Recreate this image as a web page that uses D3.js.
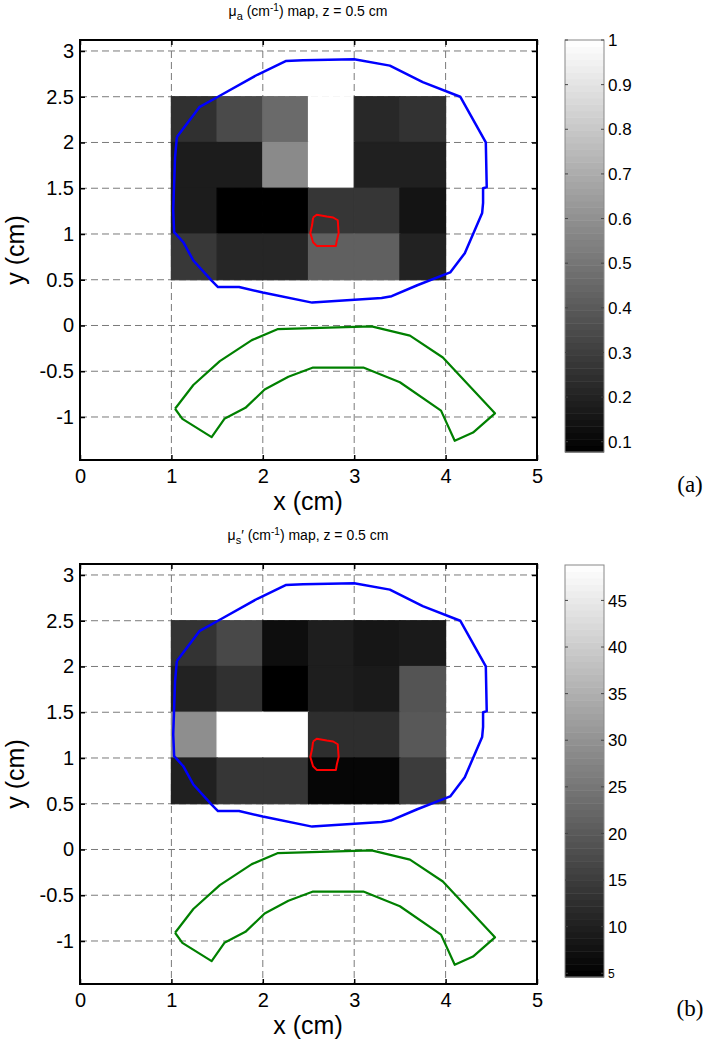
<!DOCTYPE html>
<html>
<head>
<meta charset="utf-8">
<script src="https://cdn.jsdelivr.net/npm/d3@7"></script>
<style>
  html, body { margin: 0; padding: 0; background: #fff; }
  svg { display: block; }
  text { font-family: Arial, "Liberation Sans", sans-serif; fill: #000; }
</style>
</head>
<body>
<svg id="chart" width="713" height="1050"></svg>
<script>
// ---------- data ----------
const xTicks = [0, 1, 2, 3, 4, 5];
const yTicks = [-1, -0.5, 0, 0.5, 1, 1.5, 2, 2.5, 3];
const xDomain = [0, 5];
const yDomain = [-1.47, 3.12];

// voxel grid: column left edges and row bottom edges (cm), rows listed top to bottom
const cellX = [1, 1.5, 2, 2.5, 3, 3.5];
const cellY = [2.0, 1.5, 1.0, 0.5];
const cellSize = 0.5;

// mu_a values (cm^-1), one array per row (top -> bottom)
const muaRow1 = [0.250, 0.345, 0.460, 1.000, 0.222, 0.258];
const muaRow2 = [0.178, 0.178, 0.577, 1.000, 0.193, 0.193];
const muaRow3 = [0.178, 0.077, 0.077, 0.273, 0.273, 0.149];
const muaRow4 = [0.280, 0.215, 0.215, 0.425, 0.425, 0.200];
const muaDomain = [0.077, 1.0];
const muaCbTicks = [0.1, 0.2, 0.3, 0.4, 0.5, 0.6, 0.7, 0.8, 0.9, 1];

// mu_s' values (cm^-1)
const musRow1 = [13.4, 17.1, 7.0, 9.8, 8.4, 9.1];
const musRow2 = [10.5, 12.9, 4.6, 9.8, 9.1, 19.2];
const musRow3 = [29.2, 48.8, 48.8, 12.6, 12.6, 19.9];
const musRow4 = [10.1, 14.0, 14.0, 5.6, 5.6, 15.0];
const musDomain = [4.6, 48.8];
const musCbTicks = [5, 10, 15, 20, 25, 30, 35, 40, 45];

// outline contours (cm)
const blueX = [1.06,1.31,1.51,1.94,2.25,2.44,3.00,3.39,3.75,4.16,4.44,4.45,4.41,4.41,4.40,4.21,4.05,3.69,3.41,3.30,2.54,2.00,1.74,1.51,1.44,1.24,1.13,1.03,1.02,1.04];
const blueY = [2.06,2.39,2.50,2.74,2.89,2.90,2.91,2.84,2.66,2.50,2.00,1.51,1.50,1.34,1.23,0.79,0.58,0.44,0.32,0.30,0.25,0.36,0.42,0.42,0.49,0.71,0.91,1.02,1.26,1.84];
const greenX = [1.04,1.24,1.53,1.88,2.16,3.19,3.61,3.97,4.54,4.30,4.10,3.95,3.50,3.10,2.55,2.28,2.02,1.81,1.58,1.44,1.12];
const greenY = [-0.91,-0.65,-0.39,-0.16,-0.04,-0.01,-0.11,-0.35,-0.96,-1.17,-1.26,-0.93,-0.62,-0.46,-0.46,-0.56,-0.70,-0.90,-1.02,-1.22,-1.02];
const redX = [2.55,2.59,2.70,2.77,2.82,2.83,2.81,2.80,2.59,2.55,2.52,2.54];
const redY = [1.18,1.21,1.19,1.18,1.15,1.01,0.93,0.87,0.87,0.91,1.01,1.10];

// ---------- drawing ----------
const svg = d3.select("#chart");

function drawPanel(cfg) {
  const oy = cfg.offsetY;
  const g = svg.append("g").attr("transform", `translate(0,${oy})`);
  const x = d3.scaleLinear().domain(xDomain).range([80, 537]);
  const y = d3.scaleLinear().domain(yDomain).range([460, 40]);
  const color = d3.scaleLinear().domain(cfg.domain).range(["#000000", "#ffffff"]).clamp(true);

  // title
  const t = g.append("text").attr("x", 308).attr("y", 16)
    .attr("text-anchor", "middle").style("font-size", "14px");
  t.append("tspan").text("\u03bc");
  t.append("tspan").attr("dy", 4).style("font-size", "11px").text(cfg.sub);
  t.append("tspan").attr("dy", -4).text(cfg.prime + " (cm");
  t.append("tspan").attr("dy", -5).style("font-size", "10px").text("-1");
  t.append("tspan").attr("dy", 5).text(") map, z = 0.5 cm");

  // white axes background
  g.append("rect").attr("x", 80).attr("y", 40).attr("width", 457).attr("height", 420).attr("fill", "#fff");

  // grid
  const grid = g.append("g").attr("stroke", "#7a7a7a").attr("stroke-width", 1).attr("stroke-dasharray", "7,4");
  grid.selectAll("line.gx").data(xTicks.slice(1, -1)).join("line")
    .attr("x1", d => x(d)).attr("x2", d => x(d)).attr("y1", 40).attr("y2", 460);
  grid.selectAll("line.gy").data(yTicks).join("line")
    .attr("y1", d => y(d)).attr("y2", d => y(d)).attr("x1", 80).attr("x2", 537);

  // cells
  const cells = [];
  cfg.rows.forEach((row, ri) => row.forEach((v, ci) => cells.push({x0: cellX[ci], y0: cellY[ri], v})));
  g.append("g").selectAll("rect").data(cells).join("rect")
    .attr("x", d => x(d.x0)).attr("y", d => y(d.y0 + cellSize))
    .attr("width", d => x(d.x0 + cellSize) - x(d.x0))
    .attr("height", d => y(d.y0) - y(d.y0 + cellSize))
    .attr("fill", d => color(d.v))
    .attr("stroke", d => color(d.v)).attr("stroke-width", 1.2);

  // contours
  const line = d3.line().x(d => x(d[0])).y(d => y(d[1]));
  const closed = (xs, ys) => { const p = xs.map((v, i) => [v, ys[i]]); p.push(p[0]); return p; };
  g.append("path").attr("d", line(closed(blueX, blueY))).attr("fill", "none").attr("stroke", "#0000ff").attr("stroke-width", 2.5).attr("stroke-linejoin", "round");
  g.append("path").attr("d", line(closed(greenX, greenY))).attr("fill", "none").attr("stroke", "#008000").attr("stroke-width", 2.2).attr("stroke-linejoin", "round");
  g.append("path").attr("d", line(closed(redX, redY))).attr("fill", "none").attr("stroke", "#ff0000").attr("stroke-width", 2).attr("stroke-linejoin", "round");

  // axes with inward ticks
  const fmt = d => (d < 0 ? "-" : "") + d3.format("~g")(Math.abs(d));
  const ax = g.append("g").attr("transform", "translate(0,460)")
    .call(d3.axisBottom(x).tickValues(xTicks).tickSizeInner(-5).tickSizeOuter(0).tickPadding(11).tickFormat(fmt));
  const axT = g.append("g").attr("transform", "translate(0,40)")
    .call(d3.axisTop(x).tickValues(xTicks).tickSizeInner(-5).tickSizeOuter(0).tickFormat(""));
  const ayL = g.append("g").attr("transform", "translate(80,0)")
    .call(d3.axisLeft(y).tickValues(yTicks).tickSizeInner(-5).tickSizeOuter(0).tickPadding(10).tickFormat(fmt));
  const ayR = g.append("g").attr("transform", "translate(537,0)")
    .call(d3.axisRight(y).tickValues(yTicks).tickSizeInner(-5).tickSizeOuter(0).tickFormat(""));
  [ax, axT, ayL, ayR].forEach(a => {
    a.select(".domain").remove();
    a.selectAll(".tick line").attr("stroke", "#000").attr("stroke-width", 1.5);
    a.selectAll("text").style("font-size", "20px").style("font-family", "Arial, 'Liberation Sans', sans-serif");
  });
  ax.selectAll("text").attr("dy", "0.71em").attr("y", 9);
  ayL.selectAll("text").attr("x", -6);
  // frame
  g.append("rect").attr("x", 80).attr("y", 40).attr("width", 457).attr("height", 420)
    .attr("fill", "none").attr("stroke", "#000").attr("stroke-width", 2);

  // axis labels
  g.append("text").attr("x", 308).attr("y", 510).attr("text-anchor", "middle").style("font-size", "25px").text("x (cm)");
  g.append("text").attr("transform", "translate(24,250) rotate(-90)").attr("text-anchor", "middle").style("font-size", "25px").text("y (cm)");

  // colorbar
  const cb = d3.scaleLinear().domain(cfg.domain).range([cfg.cbBottom, cfg.cbTop]);
  const cbG = g.append("g");
  const steps = d3.range(64);
  const dv = (cfg.domain[1] - cfg.domain[0]) / 64;
  cbG.selectAll("rect").data(steps).join("rect")
    .attr("x", 565).attr("width", 39)
    .attr("y", i => cb(cfg.domain[0] + (i + 1) * dv))
    .attr("height", i => cb(cfg.domain[0] + i * dv) - cb(cfg.domain[0] + (i + 1) * dv) + 0.5)
    .attr("fill", i => color(cfg.domain[0] + (i + 0.5) * dv));
  cbG.append("rect").attr("x", 565).attr("y", cfg.cbTop).attr("width", 39).attr("height", cfg.cbBottom - cfg.cbTop)
    .attr("fill", "none").attr("stroke", "#888").attr("stroke-width", 1);
  const cbt = cbG.selectAll("g.cbt").data(cfg.cbTicks).join("g").attr("class", "cbt");
  cbt.append("line").attr("x1", 565).attr("x2", 568).attr("y1", d => cb(d)).attr("y2", d => cb(d)).attr("stroke", "#444");
  cbt.append("line").attr("x1", 601).attr("x2", 604).attr("y1", d => cb(d)).attr("y2", d => cb(d)).attr("stroke", "#444");
  cbt.append("text").attr("x", 608).attr("y", d => cb(d)).attr("dy", "0.36em")
    .style("font-size", (d, i) => (cfg.smallFirst && i === 0) ? "12px" : "17px")
    .text(d => d3.format("~g")(d));

  // panel label
  g.append("text").attr("x", 690).attr("y", 492).attr("text-anchor", "middle")
    .style("font-family", "'Liberation Serif', 'Times New Roman', serif").style("font-size", "23px").text(cfg.label);
}

drawPanel({offsetY: 0, rows: [muaRow1, muaRow2, muaRow3, muaRow4], domain: muaDomain,
  cbTicks: muaCbTicks, cbTop: 40, cbBottom: 452, sub: "a", prime: "", label: "(a)", smallFirst: false});
drawPanel({offsetY: 524, rows: [musRow1, musRow2, musRow3, musRow4], domain: musDomain,
  cbTicks: musCbTicks, cbTop: 41, cbBottom: 453, sub: "s", prime: "\u2032", label: "(b)", smallFirst: true});
</script>
</body>
</html>
